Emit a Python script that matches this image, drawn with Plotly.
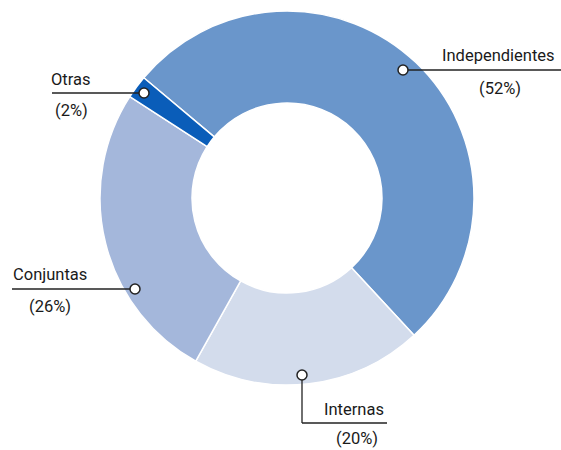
import plotly.graph_objects as go

categories = ["Independientes", "Internas", "Conjuntas", "Otras"]
values = [52, 20, 26, 2]
pct_labels = ["(52%)", "(20%)", "(26%)", "(2%)"]
colors = ["#6a96cb", "#d3dcec", "#a4b7db", "#0a5db9"]

W, H = 561, 450
FONT = "Roboto, Liberation Sans, sans-serif"

def px(x):
    return x / W

def py(y):
    return 1 - y / H

cx, cy, r = 287, 198, 187

fig = go.Figure(go.Pie(
    labels=categories,
    values=values,
    sort=False,
    direction="clockwise",
    rotation=-50,
    hole=0.508,
    marker=dict(colors=colors, line=dict(color="white", width=1.5)),
    textinfo="none",
    hoverinfo="label+percent",
    domain=dict(x=[px(cx - r), px(cx + r)], y=[py(cy + r), py(cy - r)]),
    showlegend=False,
))

line_style = dict(color="#222222", width=1.3)
shapes = []
annotations = []

def add_line(x0, y0, x1, y1):
    shapes.append(dict(type="line", xref="paper", yref="paper",
                       x0=px(x0), y0=py(y0), x1=px(x1), y1=py(y1), line=line_style))

def add_dot(x, y):
    shapes.append(dict(type="circle", xref="paper", yref="paper",
                       xsizemode="pixel", ysizemode="pixel",
                       xanchor=px(x), yanchor=py(y),
                       x0=-5, x1=5, y0=-5, y1=5,
                       fillcolor="white", line=dict(color="#222222", width=1.5)))

def add_text(t, x, y):
    annotations.append(dict(text=t, x=px(x), y=py(y), xref="paper", yref="paper",
                            xanchor="center", yanchor="middle", showarrow=False,
                            font=dict(family=FONT, size=16.5, color="#1a1a1a")))

# Independientes
add_line(403, 70, 561, 70)
add_dot(403, 70)
add_text(categories[0], 498, 55)
add_text(pct_labels[0], 500, 88)

# Internas
add_line(302, 375, 302, 423)
add_line(302, 423, 387, 423)
add_dot(302, 375)
add_text(categories[1], 354, 409)
add_text(pct_labels[1], 357, 438)

# Conjuntas
add_line(12, 289, 135, 289)
add_dot(135, 289)
add_text(categories[2], 50, 274)
add_text(pct_labels[2], 50, 306)

# Otras
add_line(52, 93, 144, 93)
add_dot(144, 93)
add_text(categories[3], 71, 79)
add_text(pct_labels[3], 71, 110)

fig.update_layout(
    width=W, height=H,
    margin=dict(l=0, r=0, t=0, b=0),
    paper_bgcolor="white",
    plot_bgcolor="white",
    shapes=shapes,
    annotations=annotations,
)

fig.write_html(
    "out.html",
    config={"displayModeBar": False},
    post_script="document.body.style.margin='0';document.body.style.overflow='hidden';",
)
